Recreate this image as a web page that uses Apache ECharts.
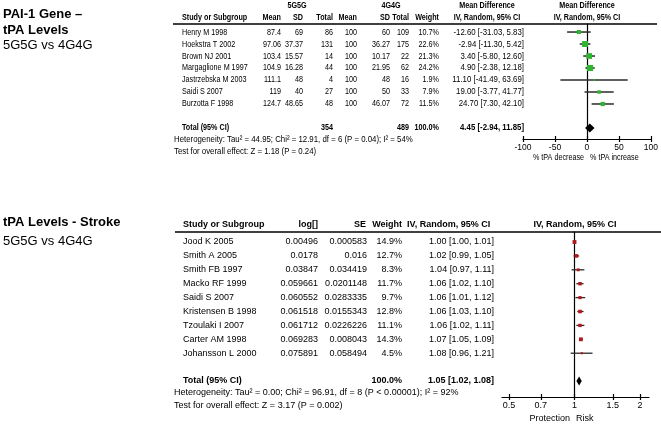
<!DOCTYPE html>
<html><head><meta charset="utf-8">
<script src="https://cdn.jsdelivr.net/npm/echarts@6/dist/echarts.min.js"></script>
<style>html,body{margin:0;padding:0;background:#fff}#c{width:661px;height:426px}</style>
</head><body><div id="c"></div>
<script>
// ---------- Panel 1: PAI-1 Gene – tPA Levels (Mean Difference) ----------
const studies1 = ['Henry M 1998','Hoekstra T 2002','Brown NJ 2001','Margaglione M 1997','Jastrzebska M 2003','Saidi S 2007','Burzotta F 1998'];
const mean5G = [87.4, 97.06, 103.4, 104.9, 111.1, 119, 124.7];
const sd5G = [69, 37.37, 15.57, 16.28, 48, 40, 48.65];
const n5G = [86, 131, 14, 44, 4, 27, 48];
const mean4G = [100, 100, 100, 100, 100, 100, 100];
const sd4G = [60, 36.27, 10.17, 21.95, 48, 50, 46.07];
const n4G = [109, 175, 22, 62, 16, 33, 72];
const weight1 = [10.7, 22.6, 21.3, 24.2, 1.9, 7.9, 11.5];
const md1 = [-12.60, -2.94, 3.40, 4.90, 11.10, 19.00, 24.70];
const lo1 = [-31.03, -11.30, -5.80, -2.38, -41.49, -3.77, 7.30];
const hi1 = [5.83, 5.42, 12.60, 12.18, 63.69, 41.77, 42.10];
const totalN1 = [354, 489];
const totalW1 = 100.0;
const totalEst1 = [4.45, -2.94, 11.85];
const ticks1 = [-100, -50, 0, 50, 100];
const het1 = 'Heterogeneity: Tau\u00b2 = 44.95; Chi\u00b2 = 12.91, df = 6 (P = 0.04); I\u00b2 = 54%';
const test1 = 'Test for overall effect: Z = 1.18 (P = 0.24)';

// ---------- Panel 2: tPA Levels - Stroke (Risk Ratio) ----------
const studies2 = ['Jood K 2005','Smith A 2005','Smith FB 1997','Macko RF 1999','Saidi S 2007','Kristensen B 1998','Tzoulaki I 2007','Carter AM 1998','Johansson L 2000'];
const logVal2 = [0.00496, 0.0178, 0.03847, 0.059661, 0.060552, 0.061518, 0.061712, 0.069283, 0.075891];
const se2 = [0.000583, 0.016, 0.034419, 0.0201148, 0.0283335, 0.0155343, 0.0226226, 0.008043, 0.058494];
const weight2 = [14.9, 12.7, 8.3, 11.7, 9.7, 12.8, 11.1, 14.3, 4.5];
const rr2 = [1.00, 1.02, 1.04, 1.06, 1.06, 1.06, 1.06, 1.07, 1.08];
const lo2 = [1.00, 0.99, 0.97, 1.02, 1.01, 1.03, 1.02, 1.05, 0.96];
const hi2 = [1.01, 1.05, 1.11, 1.10, 1.12, 1.10, 1.11, 1.09, 1.21];
const totalW2 = 100.0;
const totalEst2 = [1.05, 1.02, 1.08];
const ticks2 = [0.5, 0.7, 1, 1.5, 2];
const het2 = 'Heterogeneity: Tau\u00b2 = 0.00; Chi\u00b2 = 96.91, df = 8 (P < 0.00001); I\u00b2 = 92%';
const test2 = 'Test for overall effect: Z = 3.17 (P = 0.002)';

// ---------- layout ----------
const FF = "'Liberation Sans', Arial, sans-serif";
const F1 = 9, F2 = 9;
const SX1 = 0.8;    // panel 1 text is horizontally condensed
const SXC = 0.87;   // panel 1 CI column / footnotes
const ci = (e, l, h) => e.toFixed(2) + ' [' + l.toFixed(2) + ', ' + h.toFixed(2) + ']';

function txt(x, y, text, size, align, bold, sx) {
  return {type: 'text', x: x, y: y, scaleX: sx || 1, silent: true,
    style: {text: text, x: 0, y: 0, fill: '#000', font: (bold ? 'bold ' : '') + size + 'px ' + FF,
      textAlign: align || 'left', textVerticalAlign: 'middle'}};
}

// table columns: [x, align, horizontal scale]
const cols1 = [[182,'left',SX1],[281,'right',SX1],[303,'right',SX1],[333,'right',SX1],[357,'right',SX1],[390,'right',SX1],[409,'right',SX1],[439,'right',SX1],[524,'right',SXC]];
const cols2 = [[183,'left',1],[318,'right',1],[367,'right',1],[402,'right',1],[494,'right',1]];

const rows1 = studies1.map((s, i) => [s, String(mean5G[i]), String(sd5G[i]), String(n5G[i]), String(mean4G[i]), String(sd4G[i]), String(n4G[i]), weight1[i].toFixed(1) + '%', ci(md1[i], lo1[i], hi1[i])]);
rows1.push(['Total (95% CI)', '', '', String(totalN1[0]), '', '', String(totalN1[1]), totalW1.toFixed(1) + '%', ci(totalEst1[0], totalEst1[1], totalEst1[2])]);
const rowIdx1 = studies1.map((s, i) => i).concat([studies1.length + 1]);

const rows2 = studies2.map((s, i) => [s, String(logVal2[i]), String(se2[i]), weight2[i].toFixed(1) + '%', ci(rr2[i], lo2[i], hi2[i])]);
rows2.push(['Total (95% CI)', '', '', totalW2.toFixed(1) + '%', ci(totalEst2[0], totalEst2[1], totalEst2[2])]);
const rowIdx2 = studies2.map((s, i) => i).concat([studies2.length + 1]);

function tableSeries(gridIdx, rows, rowIdx, cols, size) {
  return {type: 'custom', xAxisIndex: gridIdx * 2, yAxisIndex: gridIdx, silent: true, clip: false, z: 5,
    data: rowIdx.map(r => [0, r]),
    renderItem: function (params, api) {
      const y = api.coord([0, api.value(1)])[1];
      const row = rows[params.dataIndex];
      const bold = params.dataIndex === rows.length - 1;
      return {type: 'group', children: row.map((t, c) => ({type: 'text', x: cols[c][0], y: y, scaleX: cols[c][2],
        style: {text: t, x: 0, y: 0, fill: '#000', font: (bold ? 'bold ' : '') + size + 'px ' + FF,
          textAlign: cols[c][1], textVerticalAlign: 'middle'}}))};
    }};
}

function forestSeries(gridIdx, data, fill, k, lw) {
  return {type: 'custom', xAxisIndex: gridIdx * 2, yAxisIndex: gridIdx, silent: true, clip: false, z: 4,
    data: data,
    renderItem: function (params, api) {
      const row = api.value(3);
      const pL = api.coord([api.value(1), row]), pH = api.coord([api.value(2), row]), pE = api.coord([api.value(0), row]);
      const s = k * Math.sqrt(api.value(4));
      return {type: 'group', children: [
        {type: 'line', shape: {x1: pL[0], y1: pL[1], x2: pH[0], y2: pH[1]}, style: {stroke: '#2b2b2b', lineWidth: lw}},
        {type: 'rect', shape: {x: pE[0] - s / 2, y: pE[1] - s / 2, width: s, height: s}, style: {fill: fill}}
      ]};
    }};
}

function diamondSeries(gridIdx, est, row, hh) {
  return {type: 'custom', xAxisIndex: gridIdx * 2, yAxisIndex: gridIdx, silent: true, clip: false, z: 4,
    data: [[est[0], est[1], est[2], row]],
    renderItem: function (params, api) {
      const r = api.value(3);
      const pE = api.coord([api.value(0), r]), pL = api.coord([api.value(1), r]), pH = api.coord([api.value(2), r]);
      return {type: 'polygon', shape: {points: [[pL[0], pL[1]], [pE[0], pE[1] - hh], [pH[0], pH[1]], [pE[0], pE[1] + hh]]},
        style: {fill: '#000'}};
    }};
}

const forest1 = studies1.map((s, i) => [md1[i], lo1[i], hi1[i], i, weight1[i]]);
const forest2 = studies2.map((s, i) => [Math.log(rr2[i]), Math.log(lo2[i]), Math.log(hi2[i]), i, weight2[i]]);
const lnTicks2 = ticks2.map(t => Math.log(t));

function xAxisPair(gridIdx, min, max, extra, size) {
  const base = {gridIndex: gridIdx, type: 'value', position: 'bottom', min: min, max: max, splitLine: {show: false}};
  return [
    Object.assign({}, base, extra.main, {
      axisLine: {show: true, onZero: false, lineStyle: {color: '#000', width: 1.2}},
      axisTick: Object.assign({show: true, length: 3, inside: false, lineStyle: {color: '#000', width: 1.2}}, extra.tick || {}),
      axisLabel: Object.assign({show: true, color: '#000', fontSize: size, fontFamily: FF, margin: 4}, extra.label || {})
    }),
    Object.assign({}, base, extra.main, {
      axisLine: {show: false, onZero: false},
      axisTick: Object.assign({show: true, length: 3, inside: true, lineStyle: {color: '#000', width: 1.2}}, extra.tick || {}),
      axisLabel: {show: false}
    })
  ];
}

const xAxes = [].concat(
  xAxisPair(0, ticks1[0], ticks1[ticks1.length - 1], {main: {interval: 50}}, 8.5),
  xAxisPair(1, -0.767, 0.788, {
    tick: {customValues: lnTicks2},
    label: {customValues: lnTicks2, formatter: function (v) {
      let best = ticks2[0], d = 1e9;
      ticks2.forEach(t => { const dd = Math.abs(Math.log(t) - v); if (dd < d) { d = dd; best = t; } });
      return String(best);
    }}
  }, F2)
);

const yAxisBase = (gi, min, max) => ({gridIndex: gi, type: 'value', inverse: true, min: min, max: max,
  axisLine: {show: true, onZero: true, onZeroAxisIndex: gi * 2, lineStyle: {color: '#000', width: 1.2}},
  axisTick: {show: false}, axisLabel: {show: false}, splitLine: {show: false}});

const graphics = [
  // panel 1 titles
  txt(3, 14, 'PAI-1 Gene \u2013', 13, 'left', true),
  txt(3, 30, 'tPA Levels', 13, 'left', true),
  txt(3, 45, '5G5G vs 4G4G', 13, 'left', false),
  // panel 1 headers
  txt(297, 6, '5G5G', F1, 'center', true, SX1),
  txt(391, 6, '4G4G', F1, 'center', true, SX1),
  txt(487, 6, 'Mean Difference', F1, 'center', true, SX1),
  txt(587, 6, 'Mean Difference', F1, 'center', true, SX1),
  txt(182, 18, 'Study or Subgroup', F1, 'left', true, SX1),
  txt(281, 18, 'Mean', F1, 'right', true, SX1),
  txt(303, 18, 'SD', F1, 'right', true, SX1),
  txt(333, 18, 'Total', F1, 'right', true, SX1),
  txt(357, 18, 'Mean', F1, 'right', true, SX1),
  txt(390, 18, 'SD', F1, 'right', true, SX1),
  txt(409, 18, 'Total', F1, 'right', true, SX1),
  txt(439, 18, 'Weight', F1, 'right', true, SX1),
  txt(487, 18, 'IV, Random, 95% CI', F1, 'center', true, SX1),
  txt(587, 18, 'IV, Random, 95% CI', F1, 'center', true, SX1),
  {type: 'line', silent: true, shape: {x1: 173, y1: 24, x2: 657, y2: 24}, style: {stroke: '#000', lineWidth: 1.5}},
  txt(174, 140, het1, F1, 'left', false, SXC),
  txt(174, 152, test1, F1, 'left', false, SXC),
  txt(584, 158, '% tPA decrease', F1, 'right', false, SX1),
  txt(590, 158, '% tPA increase', F1, 'left', false, SX1),
  // panel 2
  txt(3, 222, 'tPA Levels - Stroke', 13, 'left', true),
  txt(3, 241, '5G5G vs 4G4G', 13, 'left', false),
  txt(183, 225, 'Study or Subgroup', F2, 'left', true),
  txt(318, 225, 'log[]', F2, 'right', true),
  txt(366, 225, 'SE', F2, 'right', true),
  txt(402, 225, 'Weight', F2, 'right', true),
  txt(407, 225, 'IV, Random, 95% CI', F2, 'left', true),
  txt(575, 225, 'IV, Random, 95% CI', F2, 'center', true),
  {type: 'line', silent: true, shape: {x1: 175, y1: 232, x2: 661, y2: 232}, style: {stroke: '#000', lineWidth: 1.5}},
  txt(174, 393, het2, F2, 'left', false),
  txt(174, 406, test2, F2, 'left', false),
  txt(570, 419, 'Protection', F2, 'right', false),
  txt(576, 419, 'Risk', F2, 'left', false)
];

const chart = echarts.init(document.getElementById('c'), null, {renderer: 'canvas'});
chart.setOption({
  animation: false,
  backgroundColor: '#fff',
  grid: [
    {left: 523, top: 24, width: 129, height: 115},
    {left: 502, top: 232, width: 147, height: 165}
  ],
  xAxis: xAxes,
  yAxis: [yAxisBase(0, -0.67, 8.92), yAxisBase(1, -0.72, 11.15)],
  graphic: graphics,
  series: [
    tableSeries(0, rows1, rowIdx1, cols1, F1),
    forestSeries(0, forest1, '#2fb52f', 1.25, 1.5),
    diamondSeries(0, totalEst1, studies1.length + 1, 4.5),
    tableSeries(1, rows2, rowIdx2, cols2, F2),
    forestSeries(1, forest2, '#b3161b', 1.0, 1.3),
    diamondSeries(1, [Math.log(totalEst2[0]), Math.log(totalEst2[1]), Math.log(totalEst2[2])], studies2.length + 1, 4.5)
  ]
});
</script></body></html>
